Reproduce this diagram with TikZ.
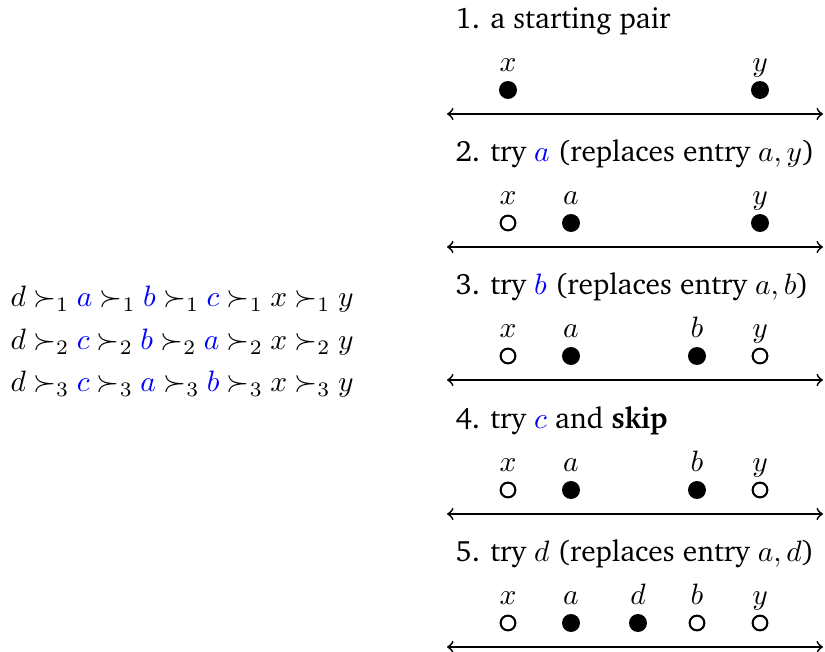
\documentclass[tikz,border=0pt]{standalone}
\usepackage[T1]{fontenc}
\usepackage{charter}
\begin{document}
\begin{tikzpicture}[x=0.3394pt,y=-0.3394pt,
  dotfull/.style={circle,fill=black,inner sep=0pt,minimum size=6.1pt},
  dotopen/.style={circle,draw=black,line width=0.7pt,fill=white,inner sep=0pt,minimum size=5pt},
  lbl/.style={anchor=base,inner sep=0pt},
  ttl/.style={anchor=base west,inner sep=0pt},
  pref/.style={anchor=base west,inner sep=0pt,execute at begin node={\thickmuskip=4.5mu plus 2mu}},
  axis/.style={<->,line width=0.6pt}]
\useasboundingbox (0,0) rectangle (825,652);
% preference lists
\node[pref] (p1) at (10,307) {$d \succ_1 {\color{blue}a} \succ_1 {\color{blue}b} \succ_1 {\color{blue}c} \succ_1 x \succ_1 y$};
\node[pref] (p2) at (10,350) {$d \succ_2 {\color{blue}c} \succ_2 {\color{blue}b} \succ_2 {\color{blue}a} \succ_2 x \succ_2 y$};
\node[pref] (p3) at (10,392) {$d \succ_3 {\color{blue}c} \succ_3 {\color{blue}a} \succ_3 {\color{blue}b} \succ_3 x \succ_3 y$};
% axes
\foreach \r/\ly in {1/114,2/247,3/380,4/514,5/647}{
  \coordinate (L\r) at (447,\ly);
  \coordinate (R\r) at (823,\ly);
  \draw[axis] (L\r) -- (R\r);
}
% row 1
\node[ttl] (t1) at (455,29) {1. a starting pair};
\node[lbl] (x1l) at (508,72) {$x$};
\node[lbl] (y1l) at (760,72) {$y$};
\node[dotfull] (x1) at (508,90) {};
\node[dotfull] (y1) at (760,90) {};
% row 2
\node[ttl] (t2) at (455,162) {2. try ${\color{blue}a}$ (replaces entry $a,y$)};
\node[lbl] (x2l) at (508,205) {$x$};
\node[lbl] (a2l) at (571,205) {$a$};
\node[lbl] (y2l) at (760,205) {$y$};
\node[dotopen] (x2) at (508,223) {};
\node[dotfull] (a2) at (571,223) {};
\node[dotfull] (y2) at (760,223) {};
% row 3
\node[ttl] (t3) at (455,295) {3. try ${\color{blue}b}$ (replaces entry $a,b$)};
\node[lbl] (x3l) at (508,338) {$x$};
\node[lbl] (a3l) at (571,338) {$a$};
\node[lbl] (b3l) at (697,338) {$b$};
\node[lbl] (y3l) at (760,338) {$y$};
\node[dotopen] (x3) at (508,356) {};
\node[dotfull] (a3) at (571,356) {};
\node[dotfull] (b3) at (697,356) {};
\node[dotopen] (y3) at (760,356) {};
% row 4
\node[ttl] (t4) at (455,429) {4. try ${\color{blue}c}$ and \textbf{skip}};
\node[lbl] (x4l) at (508,472) {$x$};
\node[lbl] (a4l) at (571,472) {$a$};
\node[lbl] (b4l) at (697,472) {$b$};
\node[lbl] (y4l) at (760,472) {$y$};
\node[dotopen] (x4) at (508,490) {};
\node[dotfull] (a4) at (571,490) {};
\node[dotfull] (b4) at (697,490) {};
\node[dotopen] (y4) at (760,490) {};
% row 5
\node[ttl] (t5) at (455,562) {5. try $d$ (replaces entry $a,d$)};
\node[lbl] (x5l) at (508,605) {$x$};
\node[lbl] (a5l) at (571,605) {$a$};
\node[lbl] (d5l) at (638,605) {$d$};
\node[lbl] (b5l) at (697,605) {$b$};
\node[lbl] (y5l) at (760,605) {$y$};
\node[dotopen] (x5) at (508,623) {};
\node[dotfull] (a5) at (571,623) {};
\node[dotfull] (d5) at (638,623) {};
\node[dotopen] (b5) at (697,623) {};
\node[dotopen] (y5) at (760,623) {};
\end{tikzpicture}
\end{document}
